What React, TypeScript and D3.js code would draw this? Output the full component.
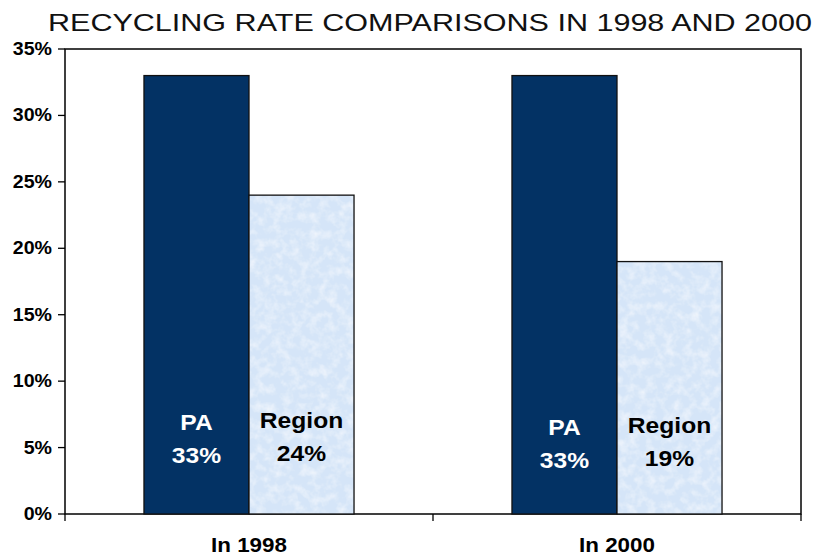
import React from 'react';
import * as d3 from 'd3';

const title = 'RECYCLING RATE COMPARISONS IN 1998 AND 2000';
const years = ['In 1998', 'In 2000'];
const seriesNames = ['PA', 'Region'];
const paValues = [33, 33];
const regionValues = [24, 19];
const yTicks = [0, 5, 10, 15, 20, 25, 30, 35];

const width = 817;
const height = 556;
const margin = { top: 49, right: 16, bottom: 42, left: 65 };

// the original looks horizontally stretched, so glyphs get widened a bit
const STRETCH = 1.12;

const App: React.FC = () => {
  const innerW = width - margin.left - margin.right;
  const innerH = height - margin.top - margin.bottom;

  const x = d3.scaleBand().domain(years).range([0, innerW]).padding(0);
  const xs = d3.scaleBand().domain(seriesNames).range([0, x.bandwidth()]).paddingInner(0).paddingOuter(0.752);
  const y = d3.scaleLinear().domain([0, 35]).range([innerH, 0]);

  const data = years.map((yr, i) => [
    { year: yr, series: 'PA', value: paValues[i] },
    { year: yr, series: 'Region', value: regionValues[i] }
  ]).flat();

  // label baselines above the axis, slightly different per group in the original
  const nameLift = [[84, 86], [79, 81]];
  const font = 'Arial, "Liberation Sans", sans-serif';

  const wide = (tx: number, ty: number) => `translate(${tx},${ty}) scale(${STRETCH},1)`;

  return (
    <svg width={width} height={height} style={{ position: 'absolute', left: 0, top: 0, background: '#fff' }}>
      <defs>
        <filter id="mottle" x="0" y="0" width="100%" height="100%">
          <feTurbulence type="fractalNoise" baseFrequency="0.11" numOctaves="3" seed="7" result="noise" />
          <feColorMatrix in="noise" type="matrix"
            values="0 0 0 0 1  0 0 0 0 1  0 0 0 0 1  1.1 0 0 0 -0.45" result="spots" />
          <feComposite in="spots" in2="SourceGraphic" operator="in" result="clipped" />
          <feMerge>
            <feMergeNode in="SourceGraphic" />
            <feMergeNode in="clipped" />
          </feMerge>
        </filter>
      </defs>

      <text x={48} y={31} fontFamily={font} fontSize={24.5}
        textLength={764} lengthAdjust="spacingAndGlyphs" fill="#111">{title}</text>

      <g transform={`translate(${margin.left},${margin.top})`}>
        {/* plot frame */}
        <rect x={0} y={0} width={innerW} height={innerH} fill="none" stroke="#000" strokeWidth={1.5} />

        {data.map((d, i) => {
          const bx = (x(d.year) || 0) + (xs(d.series) || 0);
          const by = y(d.value);
          return (
            <g key={i}>
              <rect x={bx} y={by} width={xs.bandwidth()} height={innerH - by}
                fill={d.series === 'PA' ? '#033264' : '#d5e5f8'}
                filter={d.series === 'PA' ? undefined : 'url(#mottle)'} />
              <rect x={bx} y={by} width={xs.bandwidth()} height={innerH - by}
                fill="none" stroke="#111" strokeWidth={1.3} />
            </g>
          );
        })}

        {data.map((d, i) => {
          const cx = (x(d.year) || 0) + (xs(d.series) || 0) + xs.bandwidth() / 2;
          const gi = years.indexOf(d.year);
          const si = seriesNames.indexOf(d.series);
          const top = innerH - nameLift[gi][si];
          const color = d.series === 'PA' ? '#fff' : '#000';
          return (
            <g key={'l' + i} fontFamily={font} fontWeight="bold" fontSize={22} fill={color} textAnchor="middle">
              <text transform={wide(cx, top)}>{d.series}</text>
              <text transform={wide(cx, top + 33)}>{d.value}%</text>
            </g>
          );
        })}

        {/* y axis */}
        {yTicks.map(t => (
          <g key={t} transform={`translate(0,${y(t)})`}>
            <line x1={-7} x2={0} stroke="#000" strokeWidth={1.3} />
            <text transform={wide(-13, 6)} textAnchor="end" fontFamily={font} fontWeight="bold" fontSize={17.5}>{t}%</text>
          </g>
        ))}

        {/* x axis ticks at category boundaries */}
        {[0, ...years.map(yr => (x(yr) || 0) + x.bandwidth())].map((tx, i) => (
          <line key={i} x1={tx} x2={tx} y1={innerH} y2={innerH + 7} stroke="#000" strokeWidth={1.3} />
        ))}
        {years.map(yr => (
          <text key={yr} transform={wide((x(yr) || 0) + x.bandwidth() / 2, innerH + 38)}
            textAnchor="middle" fontFamily={font} fontWeight="bold" fontSize={20}>{yr}</text>
        ))}
      </g>
    </svg>
  );
};

export default App;
